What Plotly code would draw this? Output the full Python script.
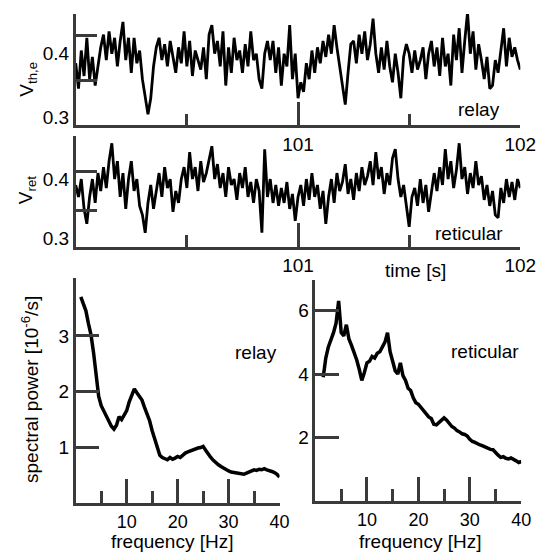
import numpy as np
import plotly.graph_objects as go

# ---------------- data ----------------
t_start, t_step = 100.0, 0.0125

v_relay = [
    0.385, 0.345, 0.405, 0.365, 0.425, 0.36, 0.395, 0.35, 0.38, 0.41,
    0.43, 0.39, 0.435, 0.40, 0.425, 0.38, 0.42, 0.45, 0.39, 0.425,
    0.37, 0.425, 0.385, 0.405, 0.36, 0.33, 0.305, 0.33, 0.38, 0.41,
    0.425, 0.39, 0.415, 0.38, 0.42, 0.395, 0.37, 0.41, 0.385, 0.435,
    0.38, 0.42, 0.365, 0.405, 0.39, 0.375, 0.41, 0.36, 0.43, 0.445,
    0.40, 0.42, 0.38, 0.435, 0.35, 0.41, 0.37, 0.425, 0.39, 0.405,
    0.37, 0.415, 0.38, 0.435, 0.39, 0.40, 0.36, 0.345, 0.40, 0.42,
    0.39, 0.42, 0.37, 0.41, 0.35, 0.40, 0.38, 0.445, 0.36, 0.40,
    0.33, 0.355, 0.34, 0.385, 0.36, 0.405, 0.37, 0.41, 0.385, 0.42,
    0.395, 0.43, 0.40, 0.445, 0.41, 0.38, 0.35, 0.32, 0.37, 0.415,
    0.42, 0.385, 0.43, 0.40, 0.435, 0.39, 0.415, 0.455, 0.40, 0.37,
    0.41, 0.375, 0.42, 0.38, 0.355, 0.40, 0.37, 0.33, 0.395, 0.415,
    0.40, 0.37, 0.405, 0.375, 0.39, 0.41, 0.36, 0.40, 0.42, 0.38,
    0.41, 0.365, 0.425, 0.38, 0.40, 0.35, 0.43, 0.39, 0.44, 0.37,
    0.42, 0.465, 0.40, 0.435, 0.375, 0.415, 0.39, 0.36, 0.395, 0.345,
    0.35, 0.39, 0.37, 0.41, 0.44, 0.38, 0.425, 0.395, 0.41, 0.39, 0.375,
]

v_ret = [
    0.39, 0.37, 0.40, 0.35, 0.325, 0.37, 0.40, 0.36, 0.41, 0.38,
    0.42, 0.385, 0.43, 0.46, 0.40, 0.43, 0.37, 0.41, 0.35, 0.40,
    0.43, 0.38, 0.40, 0.355, 0.34, 0.31, 0.36, 0.39, 0.35, 0.38,
    0.41, 0.37, 0.42, 0.385, 0.40, 0.345, 0.38, 0.36, 0.40, 0.42,
    0.385, 0.445, 0.40, 0.42, 0.38, 0.43, 0.395, 0.41, 0.435, 0.455,
    0.40, 0.425, 0.385, 0.41, 0.37, 0.42, 0.39, 0.40, 0.365, 0.41,
    0.385, 0.42, 0.37, 0.395, 0.36, 0.40, 0.38, 0.31, 0.45, 0.37,
    0.40, 0.36, 0.39, 0.355, 0.385, 0.36, 0.395, 0.35, 0.375, 0.33,
    0.37, 0.39, 0.355, 0.40, 0.365, 0.41, 0.37, 0.39, 0.35, 0.38,
    0.325, 0.37, 0.40, 0.36, 0.41, 0.38, 0.395, 0.425, 0.375, 0.40,
    0.365, 0.41, 0.38, 0.42, 0.39, 0.405, 0.43, 0.39, 0.445, 0.40,
    0.42, 0.375, 0.41, 0.39, 0.435, 0.45, 0.40, 0.37, 0.39, 0.35,
    0.32, 0.37, 0.385, 0.355, 0.40, 0.36, 0.39, 0.345, 0.38, 0.41,
    0.38, 0.42, 0.39, 0.45, 0.40, 0.43, 0.385, 0.415, 0.46, 0.40,
    0.42, 0.375, 0.41, 0.385, 0.43, 0.39, 0.405, 0.365, 0.39, 0.355,
    0.38, 0.34, 0.335, 0.385, 0.36, 0.40, 0.37, 0.395, 0.365, 0.40, 0.385,
]

f_relay_start, f_ret_start, f_step = 1.0, 1.5, 0.5

p_relay = [
    3.70, 3.58, 3.45, 3.22, 3.02, 2.70, 2.35, 1.92, 1.75, 1.66,
    1.55, 1.47, 1.38, 1.33, 1.40, 1.55, 1.50, 1.58, 1.66, 1.82,
    1.95, 2.05, 1.98, 1.92, 1.85, 1.72, 1.60, 1.48, 1.30, 1.14,
    0.98, 0.86, 0.82, 0.80, 0.78, 0.82, 0.79, 0.81, 0.84, 0.82,
    0.87, 0.90, 0.92, 0.94, 0.96, 0.97, 0.99, 1.00, 1.02, 0.95,
    0.88, 0.82, 0.77, 0.72, 0.69, 0.66, 0.63, 0.60, 0.58, 0.56,
    0.55, 0.54, 0.53, 0.52, 0.52, 0.54, 0.56, 0.58, 0.60, 0.59,
    0.61, 0.60, 0.62, 0.60, 0.59, 0.57, 0.55, 0.52, 0.47,
]

p_ret = [
    3.90, 4.50, 4.85, 5.05, 5.30, 5.60, 6.30, 5.30, 5.20, 5.55,
    5.10, 4.90, 4.70, 4.45, 4.15, 3.80, 4.05, 4.35, 4.40, 4.55,
    4.50, 4.65, 4.70, 4.85, 5.00, 5.30, 4.70, 4.40, 4.10, 4.00,
    4.35, 3.95, 3.80, 3.55, 3.48, 3.25, 3.10, 3.05, 2.95, 2.85,
    2.78, 2.65, 2.60, 2.42, 2.40, 2.48, 2.55, 2.62, 2.55, 2.45,
    2.35, 2.30, 2.22, 2.18, 2.12, 2.10, 2.05, 1.95, 1.88, 1.85,
    1.80, 1.77, 1.74, 1.70, 1.67, 1.63, 1.62, 1.52, 1.45, 1.38,
    1.40, 1.35, 1.33, 1.36, 1.30, 1.27, 1.22, 1.25,
]

time_ticks = [100, 101, 102]
time_ticktext = ["", "101", "102"]
freq_ticks = [0, 10, 20, 30, 40]
freq_ticktext = ["", "10", "20", "30", "40"]

# ---------------- figure ----------------
W, H = 547, 554
def px(x):
    return x / W
def py(y):
    return 1 - y / H

t_relay = t_start + np.arange(len(v_relay)) * t_step
t_ret = t_start + np.arange(len(v_ret)) * t_step
f_relay = f_relay_start + np.arange(len(p_relay)) * f_step
f_ret = f_ret_start + np.arange(len(p_ret)) * f_step

AX = "#3a3a3a"
FONT = "Liberation Sans, Arial, sans-serif"

fig = go.Figure()
fig.add_trace(go.Scatter(x=t_relay, y=v_relay, mode="lines", line=dict(color="black", width=2.8), xaxis="x", yaxis="y"))
fig.add_trace(go.Scatter(x=t_ret, y=v_ret, mode="lines", line=dict(color="black", width=2.8), xaxis="x2", yaxis="y2"))
fig.add_trace(go.Scatter(x=f_relay, y=p_relay, mode="lines", line=dict(color="black", width=3.5), xaxis="x3", yaxis="y3"))
fig.add_trace(go.Scatter(x=f_ret, y=p_ret, mode="lines", line=dict(color="black", width=3.5), xaxis="x4", yaxis="y4"))

base = dict(showline=True, linecolor=AX, linewidth=2.5, showgrid=False, zeroline=False,
            tickcolor=AX, tickwidth=2.5, ticks="inside", tickfont=dict(size=19, color="black", family=FONT))

def time_x(anchor):
    return dict(base, anchor=anchor, domain=[px(78), px(536)], range=[100, 102],
                tickmode="array", tickvals=time_ticks, ticktext=time_ticktext, ticklen=24,
                minor=dict(tickmode="array", tickvals=[100.5, 101.5], ticks="inside", ticklen=12,
                           tickcolor=AX, tickwidth=2.5))

def time_y(anchor, dom, rng, mtv):
    return dict(base, anchor=anchor, domain=dom, range=rng, tickmode="array",
                tickvals=[0.3, 0.4], ticktext=["0.3", "0.4"], ticks="",
                minor=dict(tickmode="array", tickvals=mtv, ticks="inside", ticklen=22,
                           tickcolor=AX, tickwidth=2.5))

def freq_x(anchor, dom):
    return dict(base, anchor=anchor, domain=dom, range=[0, 40], tickmode="array",
                tickvals=freq_ticks, ticktext=freq_ticktext, ticklen=25,
                tickfont=dict(size=18, color="black", family=FONT),
                minor=dict(tickmode="array", tickvals=[5, 15, 25, 35], ticks="inside", ticklen=13,
                           tickcolor=AX, tickwidth=2.5))

def freq_y(anchor, dom, rng, tv):
    return dict(base, anchor=anchor, domain=dom, range=rng, tickmode="array",
                tickvals=tv, ticktext=[str(v) for v in tv], ticklen=24)

fig.update_layout(
    width=W, height=H, margin=dict(l=0, r=0, t=0, b=0),
    paper_bgcolor="white", plot_bgcolor="white", showlegend=False,
    font=dict(family=FONT, size=19, color="black"),
    xaxis=time_x("y"),
    yaxis=time_y("x", [py(126), py(14)], [0.2875, 0.4625], [0.358, 0.428]),
    xaxis2=time_x("y2"),
    yaxis2=time_y("x2", [py(248), py(137)], [0.2867, 0.4717], [0.348, 0.412]),
    xaxis3=freq_x("y3", [px(78), px(288)]),
    yaxis3=freq_y("x3", [py(506), py(280)], [0, 4.03], [1, 2, 3]),
    xaxis4=freq_x("y4", [px(325), px(537)]),
    yaxis4=freq_y("x4", [py(504), py(282)], [0, 6.94], [2, 4, 6]),
)

def ann(text, x, y, angle=0):
    fig.add_annotation(text=text, x=px(x), y=py(y), xref="paper", yref="paper",
                       showarrow=False, xanchor="center", yanchor="middle", textangle=angle,
                       font=dict(size=19, color="black", family=FONT))

ann("relay", 493, 110)
ann("reticular", 483, 235)
ann("time [s]", 428, 272)
ann("relay", 264, 354)
ann("reticular", 500, 353)
ann("frequency [Hz]", 178, 544)
ann("frequency [Hz]", 433, 544)
ann("V<sub>th,e</sub>", 28, 80, -90)
ann("V<sub>ret</sub>", 28, 191, -90)
ann("spectral power [10<sup>-6</sup>/s]", 31, 392, -90)

fig.write_html("out.html", config={"displayModeBar": False},
               post_script="document.body.style.margin='0';document.body.style.overflow='hidden';")
